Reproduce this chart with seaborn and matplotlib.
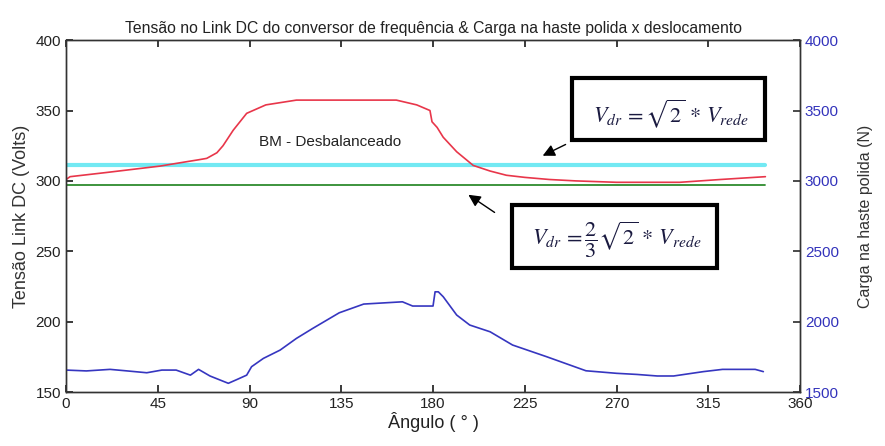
import matplotlib
matplotlib.use("Agg")
import matplotlib.pyplot as plt
from matplotlib.patches import Rectangle
import seaborn as sns

# ---- data ----
v_ang = [0, 2, 20, 46, 59, 65, 69, 74, 77, 82, 88.6, 98, 113, 162, 172, 178.5, 179.5, 182, 185,
         191.6, 199.7, 208, 216, 225, 237, 250, 270, 301, 321, 343]
v_volt = [301, 303, 306, 310.5, 313.6, 315, 316, 320, 325, 336, 348, 354, 357.4, 357.4, 354, 350,
          342, 338, 331, 320.7, 311, 307, 304, 302.5, 301, 300, 299, 299, 301, 303]

c_ang = [0, 10, 21.6, 30, 39.6, 47, 54, 61, 65, 70.6, 79.6, 84, 88.6, 91, 96.8, 105, 113, 121,
         134, 146, 165, 170, 180, 181, 182.6, 185, 191.6, 198, 208, 219, 235.7, 255, 270,
         280, 290, 298, 312.6, 322, 338, 342]
c_load = [1656, 1650, 1661, 1650, 1637, 1656, 1656, 1620, 1661, 1614, 1562, 1590, 1620, 1680,
          1739, 1798, 1881, 1952, 2063, 2125, 2141, 2111, 2111, 2212, 2212, 2177, 2047, 1976,
          1928, 1834, 1751, 1651, 1633, 1625, 1614, 1614, 1645, 1661, 1661, 1645]

ref_x = [0, 343]
v_dr_full = [311, 311]     # Vdr = sqrt(2) * Vrede
v_dr_23 = [297, 297]       # Vdr = 2/3 sqrt(2) * Vrede

x_ticks = [0, 45, 90, 135, 180, 225, 270, 315, 360]
left_ticks = [150, 200, 250, 300, 350, 400]
right_ticks = [1500, 2000, 2500, 3000, 3500, 4000]

sns.set_theme(style="white")
plt.rcParams['font.family'] = ['Liberation Sans', 'DejaVu Sans']
plt.rcParams['mathtext.fontset'] = 'stix'

fig = plt.figure(figsize=(8.85, 4.46), dpi=100)
ax = fig.add_axes([0.0746, 0.121, 0.8294, 0.789])
ax2 = ax.twinx()

sns.lineplot(x=ref_x, y=v_dr_full, ax=ax, color='#72e9f3', linewidth=3.0)
sns.lineplot(x=ref_x, y=v_dr_23, ax=ax, color='#2e8b2e', linewidth=1.3)
sns.lineplot(x=v_ang, y=v_volt, ax=ax, color='#e8364a', linewidth=1.2, estimator=None)
sns.lineplot(x=c_ang, y=c_load, ax=ax2, color='#3636c0', linewidth=1.2, estimator=None)

ax.set_xlim(0, 360)
ax.set_ylim(150, 400)
ax2.set_ylim(1500, 4000)
ax.set_xticks(x_ticks)
ax.set_yticks(left_ticks)
ax2.set_yticks(right_ticks)

for a in (ax, ax2):
    for s in a.spines.values():
        s.set_color('#333333')
        s.set_linewidth(1.0)
ax.tick_params(axis='both', direction='in', length=5, labelsize=11, colors='#222222',
               top=True, bottom=True, left=True, right=False)
ax2.tick_params(axis='y', direction='in', length=5, labelsize=11, colors='#333333',
                labelcolor='#3333bb')

ax.set_xlabel('Ângulo ( ° )', fontsize=13, labelpad=1, color='#222222')
ax.set_ylabel('Tensão Link DC (Volts)', fontsize=13, labelpad=4, color='#333333')
ax2.set_ylabel('Carga na haste polida (N)', fontsize=11.5, labelpad=14, color='#333333')
ax.set_title('Tensão no Link DC do conversor de frequência & Carga na haste polida x deslocamento',
             fontsize=11.3, pad=5, color='#222222')

ax.text(129.5, 327.5, 'BM - Desbalanceado', fontsize=11, ha='center', va='center', color='#222222')

for (x0, y0, x1, y1) in [(0.689, 0.716, 0.952, 0.892), (0.608, 0.352, 0.887, 0.531)]:
    ax2.add_patch(Rectangle((x0, y0), x1 - x0, y1 - y0, transform=ax.transAxes,
                            facecolor='white', edgecolor='black', linewidth=3, zorder=5,
                            clip_on=False))
ax2.text(0.824, 0.79, r'$V_{dr}\,=\sqrt{2}\,*\,V_{rede}$', transform=ax.transAxes,
         fontsize=16, ha='center', va='center', color='#1a1a40', zorder=6)
ax2.text(0.750, 0.432, r'$V_{dr}\,=\dfrac{2}{3}\sqrt{2}\,*\,V_{rede}$', transform=ax.transAxes,
         fontsize=16, ha='center', va='center', color='#1a1a40', zorder=6)

ax.annotate('', xy=(0.646, 0.668), xytext=(0.684, 0.707), xycoords='axes fraction',
            arrowprops=dict(arrowstyle='-|>', color='black', lw=1.0, mutation_scale=18))
ax.annotate('', xy=(0.545, 0.565), xytext=(0.587, 0.506), xycoords='axes fraction',
            arrowprops=dict(arrowstyle='-|>', color='black', lw=1.0, mutation_scale=18))

fig.savefig('out.png', dpi=100)
